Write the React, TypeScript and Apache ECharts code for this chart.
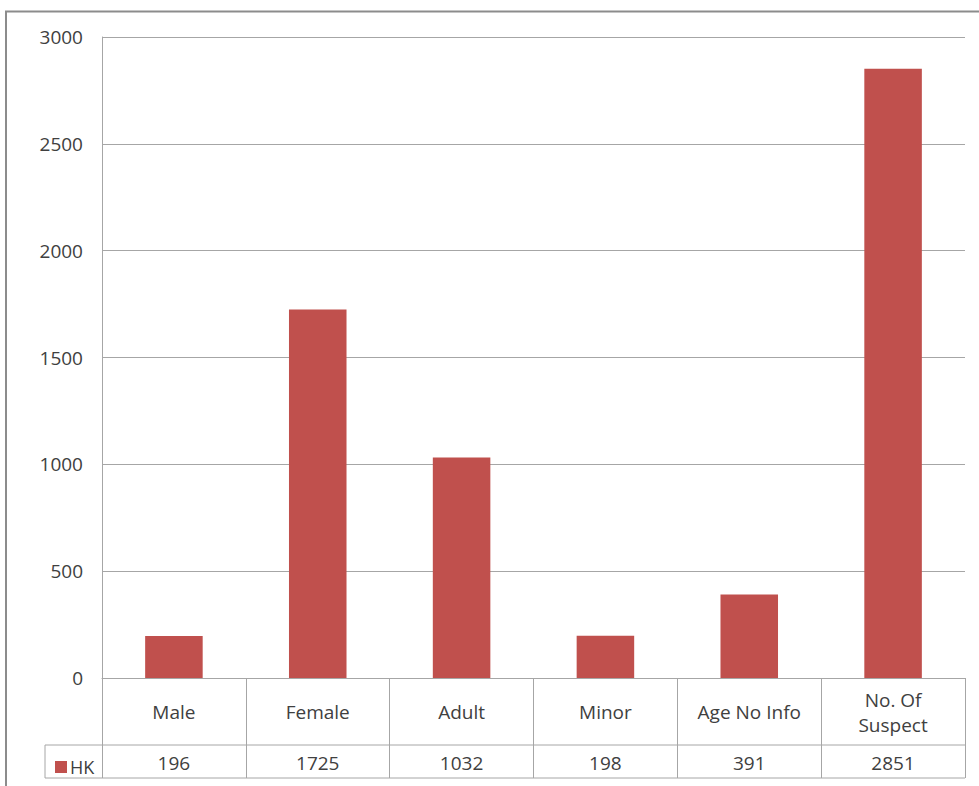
import React, { useEffect, useRef } from "react";
import * as echarts from "echarts";

const categories = ["Male", "Female", "Adult", "Minor", "Age No Info", "No. Of\nSuspect"];
const seriesName = "HK";
const values = [196, 1725, 1032, 198, 391, 2851];
const yTicks = { min: 0, max: 3000, interval: 500 };

const FONT = "'Open Sans', 'Noto Sans', sans-serif";
const TEXT = "#404040";
const LINE = "#a6a6a6";

export default function App() {
  const ref = useRef<HTMLDivElement>(null);
  useEffect(() => {
    if (!ref.current) return;
    const chart = echarts.init(ref.current, undefined, { renderer: "svg" });
    const gridLeft = 102, gridRight = 14, gridTop = 37, gridBottom = 108;
    const H = 786, W = 979;
    const axisY = H - gridBottom;
    chart.setOption({
      animation: false,
      backgroundColor: "#ffffff",
      textStyle: { fontFamily: FONT },
      grid: { left: gridLeft, right: gridRight, top: gridTop, bottom: gridBottom, containLabel: false },
      legend: {
        data: [seriesName],
        left: 50,
        top: 753,
        icon: "rect",
        itemWidth: 12,
        itemHeight: 12,
        itemGap: 4,
        textStyle: { color: TEXT, fontSize: 18, fontFamily: FONT, padding: [0, 0, 0, -2] },
      },
      xAxis: [
        {
          type: "category",
          data: categories,
          position: "bottom",
          axisLine: { show: true, lineStyle: { color: LINE, width: 1 } },
          axisTick: { show: true, length: 100, alignWithLabel: false, lineStyle: { color: LINE, width: 1 } },
          axisLabel: {
            color: TEXT,
            fontSize: 19,
            fontFamily: FONT,
            margin: 34,
            verticalAlign: "middle",
            lineHeight: 25,
            interval: 0,
          },
        },
        {
          type: "category",
          data: values.map((v) => String(v)),
          position: "bottom",
          axisLine: { show: false },
          axisTick: { show: false },
          axisLabel: {
            color: TEXT,
            fontSize: 19,
            fontFamily: FONT,
            margin: 85,
            verticalAlign: "middle",
            interval: 0,
          },
        },
      ],
      yAxis: {
        type: "value",
        min: yTicks.min,
        max: yTicks.max,
        interval: yTicks.interval,
        axisLine: { show: true, lineStyle: { color: LINE, width: 1 } },
        axisTick: { show: false },
        splitLine: { show: true, lineStyle: { color: LINE, width: 1 } },
        axisLabel: {
          color: TEXT,
          fontSize: 19,
          fontFamily: FONT,
          margin: 19,
          formatter: (v: number) => String(v),
        },
      },
      series: [
        {
          name: seriesName,
          type: "bar",
          data: values,
          barWidth: "40%",
          itemStyle: { color: "#c0504d" },
        },
      ],
      graphic: [
        {
          type: "rect",
          shape: { x: 6, y: 11.5, width: 1200, height: 1000 },
          style: { fill: "none", stroke: "#8c8c8c", lineWidth: 2 },
          silent: true,
        },
        {
          type: "line",
          shape: { x1: 45, y1: axisY + 67, x2: W - gridRight, y2: axisY + 67 },
          style: { stroke: LINE, lineWidth: 1 },
        },
        {
          type: "line",
          shape: { x1: 45, y1: axisY + 100, x2: W - gridRight, y2: axisY + 100 },
          style: { stroke: LINE, lineWidth: 1 },
        },
        {
          type: "line",
          shape: { x1: 45, y1: axisY + 67, x2: 45, y2: axisY + 100 },
          style: { stroke: LINE, lineWidth: 1 },
        },
      ],
    });
    return () => chart.dispose();
  }, []);
  return (
    <div
      ref={ref}
      style={{ position: "fixed", left: 0, top: 0, width: 979, height: 786, background: "#fff" }}
    />
  );
}
